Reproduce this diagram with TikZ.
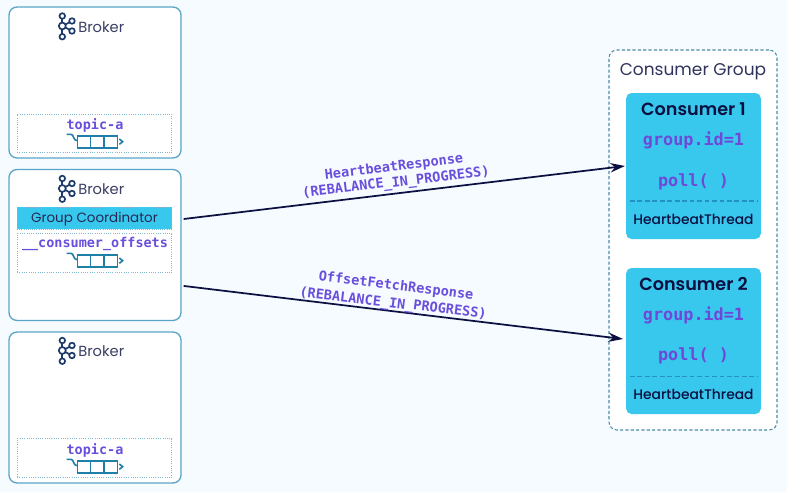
\documentclass[tikz,border=0pt]{standalone}
\usepackage{fontspec}
\setmainfont{Poppins}
\newfontfamily\mediumfont{Poppins Medium}
\newfontfamily\semifont{Poppins SemiBold}
\newfontfamily\codefont{DejaVu Sans Mono}[BoldFont={DejaVu Sans Mono Bold}]
\usetikzlibrary{arrows.meta}
\definecolor{pagebg}{HTML}{F5FBFF}
\definecolor{edgeblue}{HTML}{5AA5C6}
\definecolor{dotblue}{HTML}{7DB9D2}
\definecolor{cyanfill}{HTML}{38C8EE}
\definecolor{navy}{HTML}{0B1040}
\definecolor{logoblue}{HTML}{1D3A6A}
\definecolor{brokertext}{HTML}{3A3F63}
\definecolor{codepurple}{HTML}{6A4FDC}
\definecolor{codeviolet}{HTML}{6F48D8}
\definecolor{iconblue}{HTML}{1F7FA8}
\definecolor{rulecyan}{HTML}{2590C4}
\tikzset{
  x=0.75pt,y=-0.75pt,
  brokerbox/.style={draw=edgeblue,fill=white,line width=1.0pt,rounded corners=6pt,minimum width=129pt,minimum height=113.2pt,inner sep=0pt},
  topicbox/.style={draw=dotblue,fill=white,line width=0.7pt,densely dotted,minimum width=116pt,minimum height=29pt,inner sep=0pt},
  coordbox/.style={draw=dotblue,fill=cyanfill,line width=0.6pt,densely dotted,minimum width=116pt,minimum height=16.5pt,inner sep=0pt},
  groupbox/.style={draw=edgeblue!85!black,fill=white,line width=0.8pt,dashed,dash pattern=on 2.4pt off 1.6pt,rounded corners=6pt,minimum width=126pt,minimum height=285pt,inner sep=0pt},
  consumerbox/.style={fill=cyanfill,rounded corners=4pt,minimum width=101pt,minimum height=109.5pt,inner sep=0pt},
  brokerlabel/.style={text=brokertext,font=\fontsize{11}{13}\selectfont,inner sep=0pt},
  coordlabel/.style={text=navy!90,font=\fontsize{10.1}{12}\selectfont,inner sep=0pt},
  topiclabel/.style={text=codepurple,font=\codefont\bfseries\fontsize{10.1}{11}\selectfont,inner sep=0pt},
  idlabel/.style={text=codeviolet,font=\codefont\bfseries\fontsize{12.6}{14}\selectfont,inner sep=0pt},
  titlelabel/.style={text=navy,font=\semifont\fontsize{13.2}{15}\selectfont,inner sep=0pt},
  threadlabel/.style={text=navy,font=\mediumfont\fontsize{10.4}{13}\selectfont,inner sep=0pt},
  msglabel/.style={text=codepurple,font=\codefont\bfseries\fontsize{10.2}{11}\selectfont,inner sep=0pt},
  flowarrow/.style={draw=navy,line width=1.3pt,-{Stealth[length=11pt,width=7pt]}},
  logoline/.style={draw=logoblue,line width=1.25pt},
  iconline/.style={draw=iconblue,line width=1.2pt},
  ruleline/.style={draw=rulecyan,line width=1pt,dash pattern=on 3.6pt off 2pt},
}
\newcommand{\kafkalogo}[2]{%
  \begin{scope}[shift={(#1,#2)}]
    \draw[logoline] (62.3,16) -- (62.3,36.7);
    \draw[logoline] (62.3,26) -- (72,21);
    \draw[logoline] (62.3,26) -- (72,31);
    \foreach \px/\py/\pr in {62.3/16/2.1,62.3/36.7/2.1,72/21/2.1,72/31/2.1,62.3/26/2.6}
      \draw[logoline,fill=white] (\px,\py) circle[radius=\pr pt];
  \end{scope}}
\newcommand{\partitionicon}[2]{%
  \begin{scope}[shift={(#1,#2)}]
    \draw[iconline,line join=round] (49.7,20.3) -- (54,20.3) .. controls (57,20.3) and (56,26.7) .. (60.3,26.7);
    \draw[iconline,fill=white] (60.3,22) rectangle (100.3,33.7);
    \draw[iconline] (73.6,22) -- (73.6,33.7) (87,22) -- (87,33.7);
    \draw[iconline] (102.3,25) -- (105.7,27.7) -- (102.3,30.3);
  \end{scope}}
\begin{document}
\begin{tikzpicture}
\useasboundingbox (0,0) rectangle (802,492);
\fill[white] (0,0) rectangle (802,492);
\fill[pagebg] (0,0) rectangle (786.5,492);

% Brokers
\node[brokerbox] (b1) at (95,82.5) {};
\node[brokerbox] (b2) at (95,245) {};
\node[brokerbox] (b3) at (95,407.5) {};

\kafkalogo{0}{0}
\kafkalogo{0}{162.5}
\kafkalogo{0}{324.5}
\node[brokerlabel,anchor=west] (b1name) at (78,27.5) {Broker};
\node[brokerlabel,anchor=west] (b2name) at (78,189.5) {Broker};
\node[brokerlabel,anchor=west] (b3name) at (78,351.5) {Broker};

\node[topicbox] (t1) at (94.5,133.5) {};
\node[topiclabel] (t1name) at (95,125) {topic-a};
\partitionicon{17}{114}

\node[coordbox] (gc) at (94.5,218) {};
\node[coordlabel] (gcname) at (94.5,219.5) {Group Coordinator};
\node[topicbox] (t2) at (94.5,253) {};
\node[topiclabel] (t2name) at (95,244) {\_\_consumer\_offsets};
\partitionicon{17}{233}

\node[topicbox] (t3) at (94.5,458) {};
\node[topiclabel] (t3name) at (95,450) {topic-a};
\partitionicon{17}{439}

% Consumer group
\node[groupbox] (cg) at (693,240) {};
\node[text=navy!85,font=\fontsize{12.75}{15}\selectfont,inner sep=0pt] (cgname) at (693,72) {Consumer Group};

\node[consumerbox] (c1) at (693.5,166) {};
\node[titlelabel] (c1name) at (693.5,109) {Consumer 1};
\node[idlabel] (c1id) at (693.5,140) {group.id=1};
\node[idlabel] (c1poll) at (693.5,182) {poll( )};
\draw[ruleline] ([xshift=3pt,yshift=-26.3pt]c1.west) -- ([xshift=-3pt,yshift=-26.3pt]c1.east);
\node[threadlabel] (c1thread) at (693.5,219) {HeartbeatThread};

\node[consumerbox] (c2) at (693.5,341) {};
\node[titlelabel] (c2name) at (693.5,284) {Consumer 2};
\node[idlabel] (c2id) at (693.5,315) {group.id=1};
\node[idlabel] (c2poll) at (693.5,356) {poll( )};
\draw[ruleline] ([xshift=3pt,yshift=-26.8pt]c2.west) -- ([xshift=-3pt,yshift=-26.8pt]c2.east);
\node[threadlabel] (c2thread) at (693.5,394) {HeartbeatThread};

% Connectors
\draw[flowarrow] ([xshift=1.5pt,yshift=19.5pt]b2.east) -- ([xshift=-0.7pt]c1.west);
\draw[flowarrow] ([xshift=1.5pt,yshift=-30.7pt]b2.east) -- ([xshift=-2.2pt,yshift=1.5pt]c2.west);

\node[msglabel,rotate=6.9] (m1a) at (394,167.5) {HeartbeatResponse};
\node[msglabel,rotate=6.9] (m1b) at (396,183) {(REBALANCE\_IN\_PROGRESS)};
\node[msglabel,rotate=-6.9] (m2a) at (396,286) {OffsetFetchResponse};
\node[msglabel,rotate=-6.9] (m2b) at (393,304) {(REBALANCE\_IN\_PROGRESS)};
\end{tikzpicture}
\end{document}
